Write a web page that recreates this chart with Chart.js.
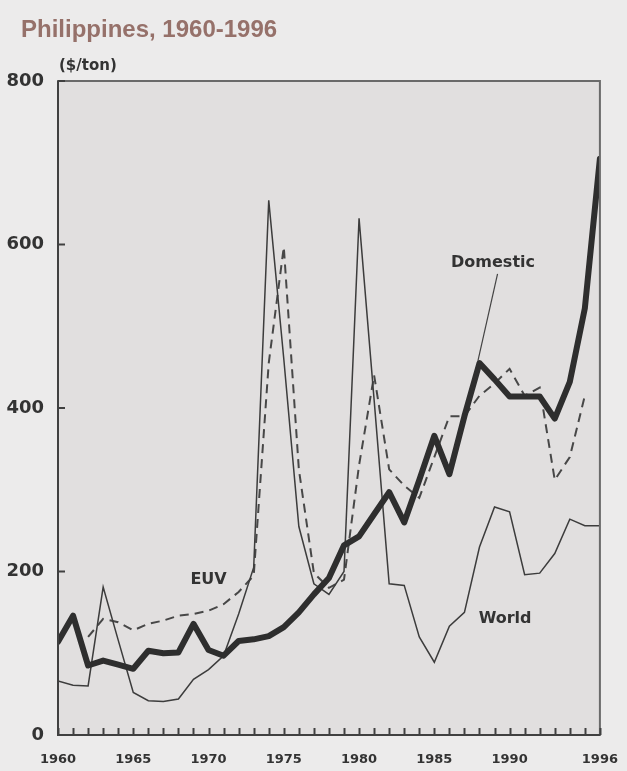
<!DOCTYPE html>
<html>
<head>
<meta charset="utf-8">
<title>Philippines, 1960-1996</title>
<script src="https://cdn.jsdelivr.net/npm/chart.js@4.4.1/dist/chart.umd.min.js"></script>
<style>
  html, body { margin: 0; padding: 0; background: #ecebeb; }
  #wrap { width: 627px; height: 771px; }
</style>
</head>
<body>
<div id="wrap"><canvas id="rice"></canvas></div>
<script>
// Philippines rice prices, $/ton

const years = [1960, 1961, 1962, 1963, 1964, 1965, 1966, 1967, 1968, 1969,
	1970, 1971, 1972, 1973, 1974, 1975, 1976, 1977, 1978, 1979,
	1980, 1981, 1982, 1983, 1984, 1985, 1986, 1987, 1988, 1989,
	1990, 1991, 1992, 1993, 1994, 1995, 1996];

const domestic = [114, 146, 85, 91, 86, 81, 103, 100, 101, 136,
	104, 97, 115, 117, 121, 132, 150, 172, 192, 232,
	243, 270, 297, 260, 312, 366, 319, 390, 455, 435,
	414, 414, 414, 387, 432, 522, 705];

const world = [66, 61, 60, 181, 116, 52, 42, 41, 44, 68,
	80, 97, 148, 205, 654, 460, 255, 185, 172, 200,
	632, 410, 185, 183, 120, 89, 133, 150, 230, 279,
	273, 196, 198, 222, 264, 256, 256];

const euv = [null, null, 120, 142, 138, 128, 136, 140, 146, 148,
	152, 160, 175, 195, 455, 597, 325, 198, 180, 190,
	330, 440, 325, 305, 290, 340, 390, 390, 415, 430,
	448, 415, 425, 312, 340, 415, null];

const yTicks = [0, 200, 400, 600, 800];
const xLabelYears = [1960, 1965, 1970, 1975, 1980, 1985, 1990, 1996];

// text labels placed in data coordinates
const seriesLabels = [
	{ text: "Domestic", x: 1988.9, y: 578 },
	{ text: "EUV", x: 1970.0, y: 190 },
	{ text: "World", x: 1989.7, y: 142 },
];
const leader = [[1989.2, 564], [1987.9, 458]];

const toPoints = (vals) => years.map((yr, i) => ({ x: yr, y: vals[i] }));

const tickFont = { family: "DejaVu Sans", weight: "bold", size: 18 };

const paper = {
	id: "paper",
	beforeDraw(chart) {
		const { ctx, chartArea: a } = chart;
		ctx.save();
		ctx.fillStyle = "#ecebeb";
		ctx.fillRect(0, 0, chart.width, chart.height);
		ctx.fillStyle = "#e1dfdf";
		ctx.fillRect(a.left, a.top, a.right - a.left, a.bottom - a.top);
		ctx.restore();
	},
	afterDraw(chart) {
		const { ctx, chartArea: a } = chart;
		const xs = chart.scales.x;
		const ys = chart.scales.y;
		ctx.save();

		// frame
		ctx.strokeStyle = "#6a6a6a";
		ctx.lineWidth = 2;
		ctx.strokeRect(a.left, a.top, a.right - a.left, a.bottom - a.top);
		ctx.strokeStyle = "#404040";
		ctx.beginPath();
		ctx.moveTo(a.left, a.top);
		ctx.lineTo(a.left, a.bottom);
		ctx.lineTo(a.right, a.bottom);
		ctx.stroke();

		// inside ticks
		ctx.lineWidth = 2;
		years.forEach((yr) => {
			const px = Math.round(xs.getPixelForValue(yr)) + 0.5;
			ctx.beginPath();
			ctx.moveTo(px, a.bottom);
			ctx.lineTo(px, a.bottom - 7);
			ctx.stroke();
		});
		yTicks.forEach((v) => {
			const py = ys.getPixelForValue(v);
			ctx.beginPath();
			ctx.moveTo(a.left, py);
			ctx.lineTo(a.left + 7, py);
			ctx.stroke();
		});

		// title and unit
		ctx.fillStyle = "#96716a";
		ctx.font = "bold 24px 'Liberation Sans'";
		ctx.textBaseline = "alphabetic";
		ctx.fillText("Philippines, 1960-1996", 21, 37);
		ctx.fillStyle = "#333";
		ctx.font = "bold 15px 'DejaVu Sans'";
		ctx.fillText("($/ton)", 59, 70);

		// series labels
		ctx.font = "bold 16px 'DejaVu Sans'";
		ctx.textAlign = "center";
		ctx.textBaseline = "middle";
		seriesLabels.forEach((l) => {
			ctx.fillText(l.text, xs.getPixelForValue(l.x), ys.getPixelForValue(l.y));
		});
		ctx.strokeStyle = "#444";
		ctx.lineWidth = 1.2;
		ctx.beginPath();
		ctx.moveTo(xs.getPixelForValue(leader[0][0]), ys.getPixelForValue(leader[0][1]));
		ctx.lineTo(xs.getPixelForValue(leader[1][0]), ys.getPixelForValue(leader[1][1]));
		ctx.stroke();
		ctx.restore();
	},
};

const riceConfig = {
	type: "line",
	data: {
		datasets: [
			{
				label: "Domestic",
				data: toPoints(domestic),
				borderColor: "#2e2e2e",
				borderWidth: 6,
				borderJoinStyle: "round",
				borderCapStyle: "round",
				pointRadius: 0,
				tension: 0,
			},
			{
				label: "World",
				data: toPoints(world),
				borderColor: "#3c3c3c",
				borderWidth: 1.5,
				pointRadius: 0,
				tension: 0,
			},
			{
				label: "EUV",
				data: toPoints(euv),
				borderColor: "#474747",
				borderWidth: 2,
				borderDash: [9, 6],
				pointRadius: 0,
				tension: 0,
				spanGaps: false,
			},
		],
	},
	options: {
		responsive: true,
		maintainAspectRatio: false,
		animation: false,
		layout: { padding: { top: 81, right: 22, left: 0, bottom: 0 } },
		plugins: {
			legend: { display: false },
			tooltip: { enabled: false },
		},
		scales: {
			x: {
				type: "linear",
				min: 1960,
				max: 1996,
				afterBuildTicks: (scale) => {
					scale.ticks = years.map((v) => ({ value: v }));
				},
				afterFit: (scale) => {
					scale.height = 36;
				},
				grid: { display: false },
				border: { display: false },
				ticks: {
					autoSkip: false,
					maxRotation: 0,
					padding: 9,
					color: "#333",
					font: { family: "DejaVu Sans", weight: "bold", size: 13 },
					callback: (v) => (xLabelYears.includes(v) ? String(v) : ""),
				},
			},
			y: {
				min: 0,
				max: 800,
				afterBuildTicks: (scale) => {
					scale.ticks = yTicks.map((v) => ({ value: v }));
				},
				afterFit: (scale) => {
					scale.width = 58;
				},
				grid: { display: false },
				border: { display: false },
				ticks: {
					padding: 6,
					color: "#333",
					font: tickFont,
					callback: (v) => String(v),
				},
			},
		},
	},
	plugins: [paper],
};

const riceChart = new Chart(document.getElementById("rice"), riceConfig);
</script>
</body>
</html>
